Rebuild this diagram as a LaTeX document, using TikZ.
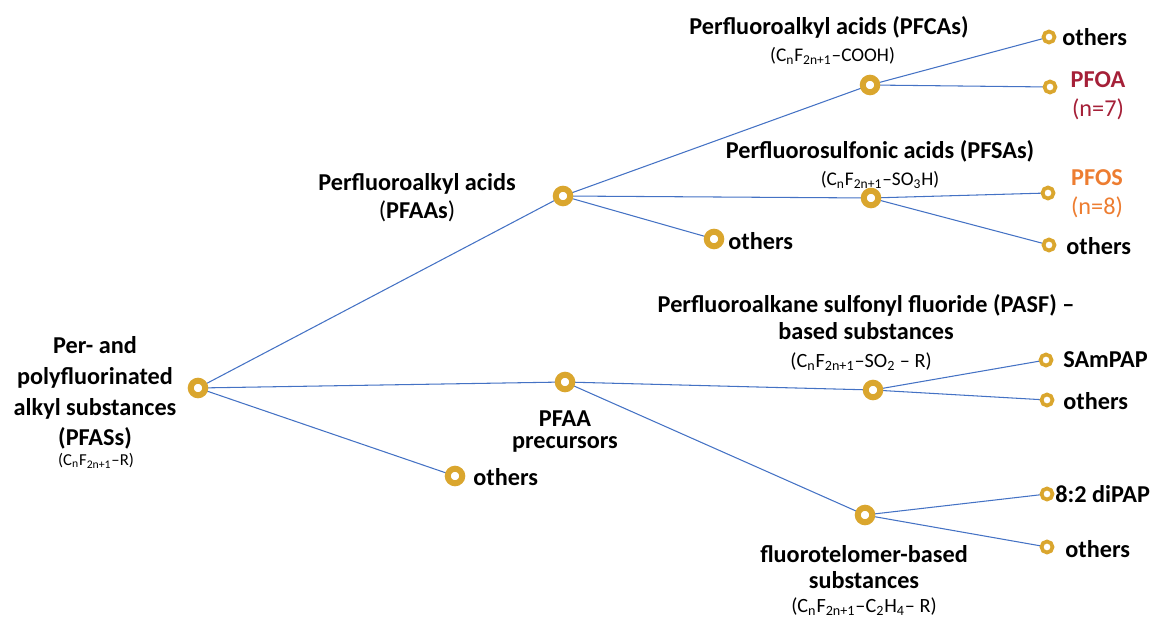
\documentclass[tikz,border=0pt]{standalone}
\usepackage{fontspec}
\setmainfont{Carlito}
\usepackage{tikz}
\usetikzlibrary{positioning}
\definecolor{ringgold}{RGB}{218,166,46}
\definecolor{linkblue}{RGB}{68,114,196}
\definecolor{pfoared}{RGB}{165,32,56}
\definecolor{pfosorange}{RGB}{237,125,49}
\tikzstyle{hub} = [circle,
draw=ringgold, fill=white,
line width=0.12cm,
minimum size=0.29cm, inner sep=0pt]
\tikzstyle{leaf} = [circle,
draw=ringgold, fill=white,
line width=0.075cm,
minimum size=0.22cm, inner sep=0pt]
\tikzstyle{link} = [draw=linkblue, line width=0.6pt]
\tikzstyle{biglbl} = [inner sep=0pt, align=center,
font=\fontsize{13.8}{17.5}\selectfont\bfseries]
\tikzstyle{fml} = [inner sep=0pt, font=\fontsize{11}{13}\selectfont]
\newcommand{\cnf}{C\textsubscript{n}F\textsubscript{2n+1}}

\begin{document}
\begin{tikzpicture}[x=0.02cm, y=-0.02cm]
            \useasboundingbox (0,0) rectangle (1155,621);
            % branch points
            \coordinate (rootc) at (198,388);
            \coordinate (pfaac) at (563,196);
            \coordinate (precc) at (565,382);
            \coordinate (oth1c) at (455,476);
            \coordinate (pfcac) at (870,85);
            \coordinate (pfsac) at (871,198);
            \coordinate (oth2c) at (714,239);
            \coordinate (pasfc) at (873,390);
            \coordinate (ftc) at (865,515);

            % connectors
            \draw [link] (rootc) -- (pfaac);
            \draw [link] (rootc) -- (precc);
            \draw [link] (rootc) -- (oth1c);
            \draw [link] (pfaac) -- (pfcac);
            \draw [link] (pfaac) -- (pfsac);
            \draw [link] (pfaac) -- (oth2c);
            \draw [link] (precc) -- (pasfc);
            \draw [link] (precc) -- (ftc);
            \draw [link] (pfcac) -- (1049,37) coordinate (lf1);
            \draw [link] (pfcac) -- (1050,87) coordinate (lf2);
            \draw [link] (pfsac) -- (1048,193) coordinate (lf3);
            \draw [link] (pfsac) -- (1049,245) coordinate (lf4);
            \draw [link] (pasfc) -- (1046,360) coordinate (lf5);
            \draw [link] (pasfc) -- (1047,400) coordinate (lf6);
            \draw [link] (ftc) -- (1047,494) coordinate (lf7);
            \draw [link] (ftc) -- (1047,547) coordinate (lf8);

            % rings
            \node (root) [hub] at (rootc) {};
            \node (pfaa) [hub] at (pfaac) {};
            \node (prec) [hub] at (precc) {};
            \node (oth1) [hub] at (oth1c) {};
            \node (pfca) [hub] at (pfcac) {};
            \node (pfsa) [hub] at (pfsac) {};
            \node (oth2) [hub] at (oth2c) {};
            \node (pasf) [hub] at (pasfc) {};
            \node (ft) [hub] at (ftc) {};
            \foreach \n in {1,...,8}
                \node (leaf\n) [leaf] at (lf\n) {};

            % labels
            \node (rootlbl) [biglbl] at (95,393) {Per- and\\polyfluorinated\\alkyl substances\\(PFASs)};
            \node (rootfml) [fml, font=\fontsize{9.5}{12}\selectfont] at (96,461) {(\cnf–R)};
            \node (pfaalbl) [biglbl] at (417,198) {Perfluoroalkyl acids\\[-1.5pt]{\mdseries(}PFAAs{\mdseries)}};
            \node (preclbl) [biglbl] at (565,432) {PFAA\\[-5pt]precursors};
            \node (oth1lbl) [biglbl, anchor=west] at (473,477) {others};
            \node (oth2lbl) [biglbl, anchor=west] at (728,241) {others};
            \node (pfcalbl) [biglbl] at (829,27) {Perfluoroalkyl acids (PFCAs)};
            \node (pfcafml) [fml, below=5pt of pfcalbl, xshift=2pt] {(\cnf–COOH)};
            \node (pfsalbl) [biglbl] at (880,151) {Perfluorosulfonic acids (PFSAs)};
            \node (pfsafml) [fml, below=5pt of pfsalbl] {(\cnf–SO\textsubscript{3}H)};
            \node (pasflbl) [biglbl] at (866,317) {Perfluoroalkane sulfonyl fluoride (PASF) –\\[-2pt]based substances};
            \node (pasffml) [fml, font=\fontsize{11.5}{14}\selectfont] at (861,362) {(\cnf–SO\textsubscript{2} – R)};
            \node (ftlbl) [biglbl] at (864,567) {fluorotelomer-based\\[-3pt]substances};
            \node (ftfml) [fml, font=\fontsize{11.5}{14}\selectfont] at (864,607) {(\cnf–C\textsubscript{2}H\textsubscript{4}– R)};

            \node [biglbl, anchor=west] at (1062,37) {others};
            \node [biglbl, text=pfoared] at (1098,96) {PFOA\\[-1pt]{\mdseries(n=7)}};
            \node [biglbl, text=pfosorange] at (1097,194) {PFOS\\[-1pt]{\mdseries(n=8)}};
            \node [biglbl, anchor=west] at (1066,246) {others};
            \node [biglbl, anchor=west] at (1063,360) {SAmPAP};
            \node [biglbl, anchor=west] at (1063,401) {others};
            \node [biglbl, anchor=west] at (1055,494) {8:2 diPAP};
            \node [biglbl, anchor=west] at (1065,549) {others};
        \end{tikzpicture}
\end{document}
